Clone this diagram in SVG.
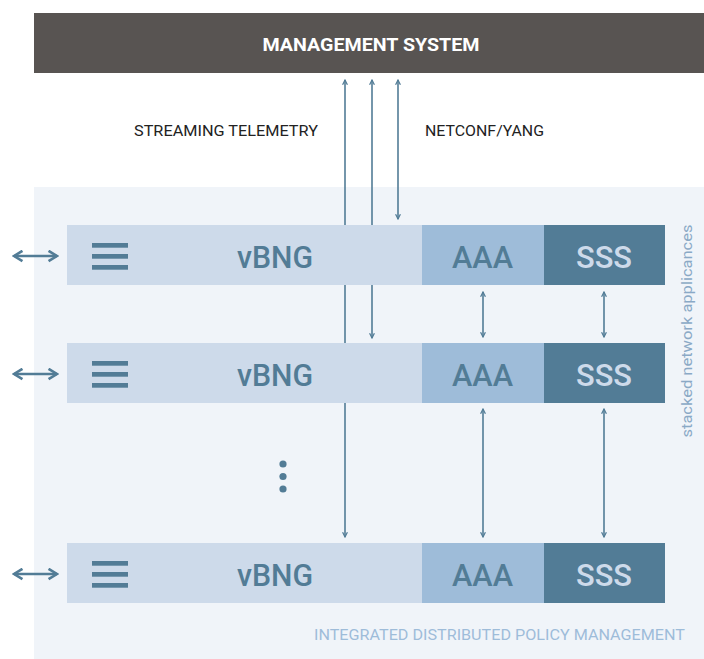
<svg xmlns="http://www.w3.org/2000/svg" width="704" height="659" viewBox="0 0 704 659">
<defs>
<style>
.cond{font-family:"Liberation Sans Narrow","Roboto","Liberation Sans",sans-serif}
.big{font-family:"Roboto","Liberation Sans",sans-serif;font-size:32px;font-weight:500}
.ln{stroke:#527c96;stroke-width:1.6;fill:none}
.lr{stroke:#527c96;stroke-width:2.6;fill:none}
.bar{fill:#527c96}
</style>
<marker id="ah" viewBox="0 0 10 10" refX="9" refY="5" markerWidth="6" markerHeight="6" markerUnits="userSpaceOnUse" orient="auto-start-reverse">
<path d="M1,1 L9,5 L1,9" fill="none" stroke="#527c96" stroke-width="2"/>
</marker>
<marker id="ahb" viewBox="0 0 10 10" refX="8.5" refY="5" markerWidth="5" markerHeight="5" orient="auto-start-reverse">
<path d="M2,1 L8.5,5 L2,9" fill="none" stroke="#527c96" stroke-width="2"/>
</marker>
</defs>
<rect width="704" height="659" fill="#ffffff"/>
<g id="management-system">
<rect x="34" y="13" width="670" height="60" fill="#585452"/>
<text x="371" y="51" class="cond" font-size="18" font-weight="bold" fill="#ffffff" text-anchor="middle" textLength="217" lengthAdjust="spacingAndGlyphs">MANAGEMENT SYSTEM</text>
</g>
<g id="labels">
<text x="134" y="136" class="cond" font-size="14" fill="#222222" textLength="184" lengthAdjust="spacingAndGlyphs">STREAMING TELEMETRY</text>
<text x="425" y="136" class="cond" font-size="14" fill="#222222" textLength="119" lengthAdjust="spacingAndGlyphs">NETCONF/YANG</text>
</g>
<g id="policy-panel">
<rect x="34" y="187" width="670" height="472" fill="#f0f4f9"/>
<text x="685" y="640" class="cond" font-size="14.5" fill="#9ebcd9" text-anchor="end" textLength="371" lengthAdjust="spacingAndGlyphs">INTEGRATED DISTRIBUTED POLICY MANAGEMENT</text>
<text transform="translate(692,331) rotate(-90)" font-family="Roboto,'Liberation Sans',sans-serif" font-size="15" fill="#8aa9c6" text-anchor="middle" textLength="213" lengthAdjust="spacingAndGlyphs">stacked network applicances</text>
</g>
<g id="connectors">
<line class="ln" x1="345" y1="537" x2="345" y2="80" marker-start="url(#ah)" marker-end="url(#ah)"/>
<line class="ln" x1="372" y1="338" x2="372" y2="80" marker-start="url(#ah)" marker-end="url(#ah)"/>
<line class="ln" x1="398" y1="219" x2="398" y2="80" marker-start="url(#ah)" marker-end="url(#ah)"/>
<line class="ln" x1="483" y1="292" x2="483" y2="337" marker-start="url(#ah)" marker-end="url(#ah)"/>
<line class="ln" x1="604" y1="292" x2="604" y2="337" marker-start="url(#ah)" marker-end="url(#ah)"/>
<line class="ln" x1="483" y1="409" x2="483" y2="537" marker-start="url(#ah)" marker-end="url(#ah)"/>
<line class="ln" x1="604" y1="409" x2="604" y2="537" marker-start="url(#ah)" marker-end="url(#ah)"/>
<line class="lr" x1="14" y1="256" x2="57" y2="256" marker-start="url(#ahb)" marker-end="url(#ahb)"/>
<line class="lr" x1="14" y1="374" x2="57" y2="374" marker-start="url(#ahb)" marker-end="url(#ahb)"/>
<line class="lr" x1="14" y1="574" x2="57" y2="574" marker-start="url(#ahb)" marker-end="url(#ahb)"/>
</g>
<g id="row-1">
<rect x="67" y="225" width="355" height="60" fill="#cddaea"/>
<rect x="422" y="225" width="122" height="60" fill="#9ebcd9"/>
<rect x="544" y="225" width="121" height="60" fill="#527c96"/>
<rect class="bar" x="92" y="243" width="36" height="4.7"/>
<rect class="bar" x="92" y="254" width="36" height="4.7"/>
<rect class="bar" x="92" y="265" width="36" height="4.7"/>
<text x="237" y="268" class="big" fill="#527c96" textLength="76" lengthAdjust="spacingAndGlyphs">vBNG</text>
<text x="452" y="268" class="big" fill="#527c96" textLength="61" lengthAdjust="spacingAndGlyphs">AAA</text>
<text x="576" y="268" class="big" fill="#cddaea" textLength="56" lengthAdjust="spacingAndGlyphs">SSS</text>
</g>
<g id="row-2">
<rect x="67" y="343" width="355" height="60" fill="#cddaea"/>
<rect x="422" y="343" width="122" height="60" fill="#9ebcd9"/>
<rect x="544" y="343" width="121" height="60" fill="#527c96"/>
<rect class="bar" x="92" y="361" width="36" height="4.7"/>
<rect class="bar" x="92" y="372" width="36" height="4.7"/>
<rect class="bar" x="92" y="383" width="36" height="4.7"/>
<text x="237" y="386" class="big" fill="#527c96" textLength="76" lengthAdjust="spacingAndGlyphs">vBNG</text>
<text x="452" y="386" class="big" fill="#527c96" textLength="61" lengthAdjust="spacingAndGlyphs">AAA</text>
<text x="576" y="386" class="big" fill="#cddaea" textLength="56" lengthAdjust="spacingAndGlyphs">SSS</text>
</g>
<g id="ellipsis">
<circle cx="283" cy="464" r="3.6" fill="#527c96"/>
<circle cx="283" cy="476.5" r="3.6" fill="#527c96"/>
<circle cx="283" cy="489" r="3.6" fill="#527c96"/>
</g>
<g id="row-3">
<rect x="67" y="543" width="355" height="60" fill="#cddaea"/>
<rect x="422" y="543" width="122" height="60" fill="#9ebcd9"/>
<rect x="544" y="543" width="121" height="60" fill="#527c96"/>
<rect class="bar" x="92" y="561" width="36" height="4.7"/>
<rect class="bar" x="92" y="572" width="36" height="4.7"/>
<rect class="bar" x="92" y="583" width="36" height="4.7"/>
<text x="237" y="586" class="big" fill="#527c96" textLength="76" lengthAdjust="spacingAndGlyphs">vBNG</text>
<text x="452" y="586" class="big" fill="#527c96" textLength="61" lengthAdjust="spacingAndGlyphs">AAA</text>
<text x="576" y="586" class="big" fill="#cddaea" textLength="56" lengthAdjust="spacingAndGlyphs">SSS</text>
</g>
</svg>
